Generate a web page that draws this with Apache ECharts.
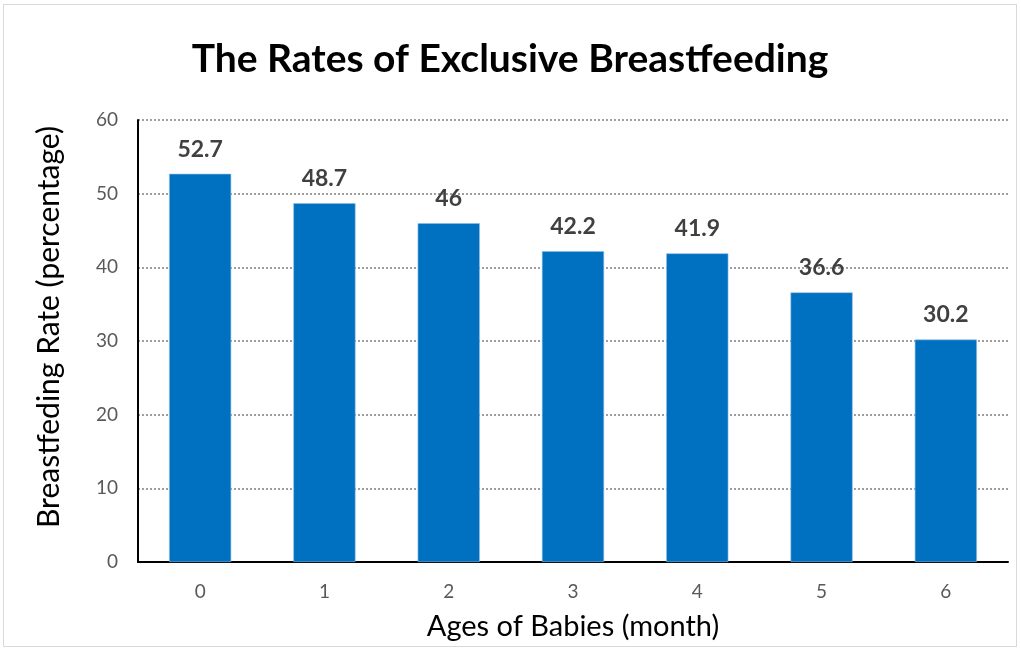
<!DOCTYPE html>
<html>
<head>
<meta charset="utf-8">
<script src="https://cdn.jsdelivr.net/npm/echarts@6/dist/echarts.min.js"></script>
<style>
  html, body { margin: 0; padding: 0; background: #fff; }
  #wrap { position: absolute; left: 3px; top: 4px; width: 1014px; height: 643px; border: 1px solid #d9d9d9; box-sizing: border-box; }
  #chart { width: 100%; height: 100%; }
</style>
</head>
<body>
<div id="wrap"><div id="chart"></div></div>
<script>
// chart data
const ages = ['0', '1', '2', '3', '4', '5', '6'];
const rates = [52.7, 48.7, 46, 42.2, 41.9, 36.6, 30.2];
const chartTitle = 'The Rates of Exclusive Breastfeeding';
const xName = 'Ages of Babies (month)';
const yName = 'Breastfeding Rate (percentage)';

const font = 'Lato, "Open Sans", sans-serif';
const chart = echarts.init(document.getElementById('chart'));

chart.setOption({
    animation: false,
    title: {
        text: chartTitle,
        left: 'center',
        top: 30,
        textStyle: {
            fontFamily: font,
            fontSize: 39,
            fontWeight: 'bold',
            color: '#000'
        }
    },
    grid: {
        left: 134,
        right: 8,
        top: 115,
        bottom: 82
    },
    xAxis: {
        type: 'category',
        data: ages,
        name: xName,
        nameLocation: 'middle',
        nameGap: 50,
        nameTextStyle: { fontFamily: font, fontSize: 29, color: '#000' },
        axisLine: { lineStyle: { color: '#000', width: 2 } },
        axisTick: { show: false },
        axisLabel: { fontFamily: font, fontSize: 19, color: '#595959', margin: 20 }
    },
    yAxis: {
        type: 'value',
        min: 0,
        max: 60,
        interval: 10,
        name: yName,
        nameLocation: 'middle',
        nameGap: 74,
        nameTextStyle: { fontFamily: font, fontSize: 30, color: '#000', padding: [0, 0, 0, 28] },
        axisLine: { show: true, lineStyle: { color: '#000', width: 2 } },
        axisTick: { show: false },
        axisLabel: { fontFamily: font, fontSize: 19, color: '#595959', margin: 20 },
        splitLine: { lineStyle: { color: '#7f7f7f', type: [2, 2], width: 1.5 } }
    },
    series: [{
        type: 'bar',
        data: rates,
        barWidth: '50%',
        itemStyle: { color: '#0070c0', borderColor: '#8fbde6', borderWidth: 0.6 },
        label: {
            show: true,
            position: 'top',
            distance: 13,
            fontFamily: font,
            fontSize: 23,
            fontWeight: 'bold',
            color: '#404040'
        }
    }]
});
</script>
</body>
</html>
